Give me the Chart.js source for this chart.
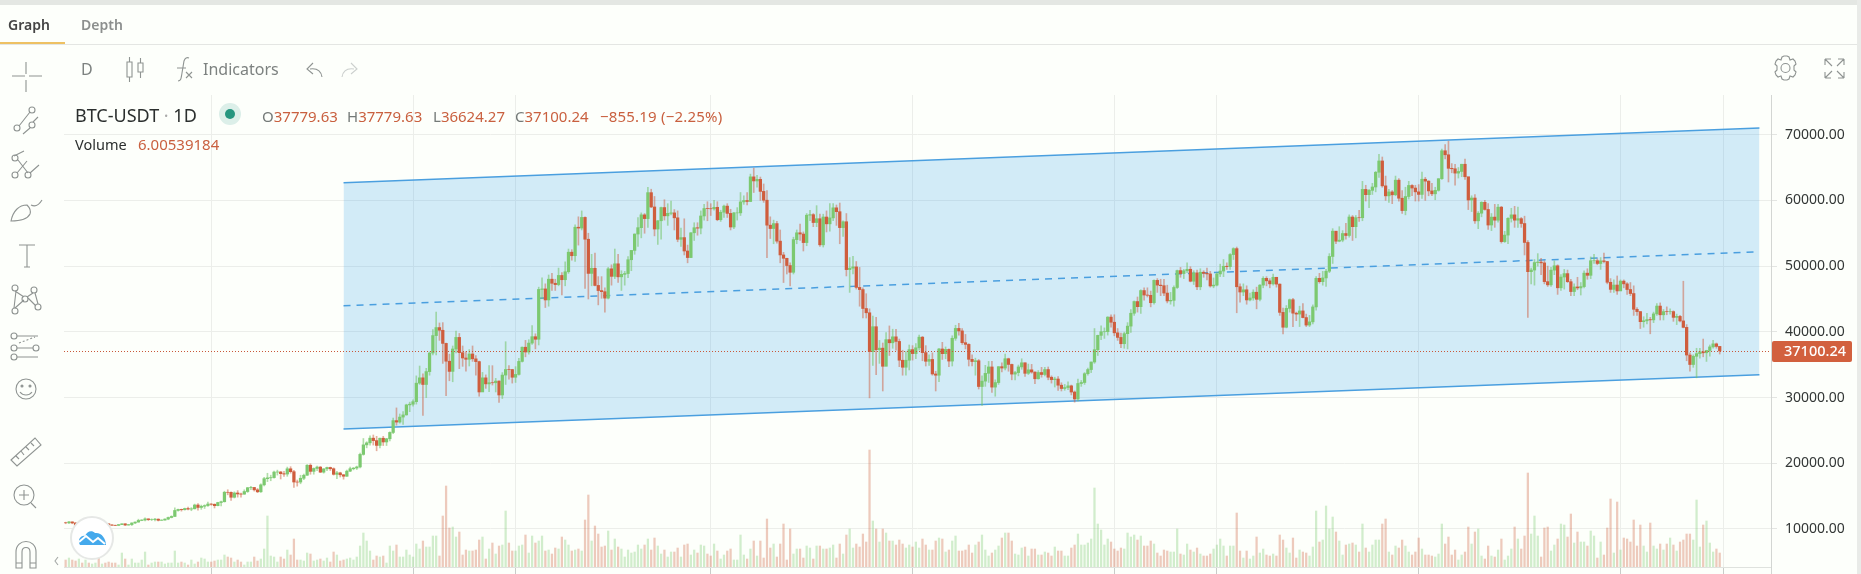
<!DOCTYPE html>
<html>
<head>
<meta charset="utf-8">
<title>BTC-USDT 1D</title>
<script src="https://cdn.jsdelivr.net/npm/chart.js@4"></script>
<style>
  html, body { margin: 0; padding: 0; background: #fdfffb; overflow: hidden; }
  #page { position: relative; width: 1861px; height: 574px; font-family: "Noto Sans", sans-serif; overflow: hidden; }
  #chart { position: absolute; left: 0; top: 0; }
  #icons { position: absolute; left: 0; top: 0; pointer-events: none; }
  .txt { position: absolute; white-space: nowrap; line-height: 20px; }
  .topstrip { position: absolute; left: 0; top: 0; width: 1861px; height: 5px; background: #e4e7e3; }
  .sidestrip { position: absolute; right: 0; top: 0; width: 4px; height: 574px; background: #e9ebe8; }
  .tabline { position: absolute; left: 0; top: 44px; width: 1857px; height: 1px; background: #e4e6e3; }
  .tabmark { position: absolute; left: 0; top: 42px; width: 65px; height: 2px; background: #eec163; }
  .grey { color: #7d8280; }
  .dark { color: #2b2f2e; }
  .red { color: #c9603f; }
  .leg { font-size: 15px; color: #747a78; }
  .leg b { font-weight: 400; color: #c9603f; }
</style>
</head>
<body>
<div id="page">
  <canvas id="chart" width="1861" height="574"></canvas>
  <div class="topstrip"></div>
  <div class="sidestrip"></div>
  <div class="tabline"></div>
  <div class="tabmark"></div>
  <div class="txt dark" style="left:8px;top:15px;font-size:14px;font-weight:600;color:#444">Graph</div>
  <div class="txt" style="left:81px;top:15px;font-size:14px;font-weight:600;color:#8c8f8e">Depth</div>
  <div class="txt grey" style="left:81px;top:59px;font-size:16px">D</div>
  <div class="txt grey" style="left:203px;top:59px;font-size:16px">Indicators</div>
  <div class="txt dark" style="left:75px;top:105px;font-size:18px">BTC-USDT <span style="color:#aaa">·</span> 1D</div>
  <div class="txt leg" style="left:262px;top:106px">O<b>37779.63</b></div>
  <div class="txt leg" style="left:347px;top:106px">H<b>37779.63</b></div>
  <div class="txt leg" style="left:433px;top:106px">L<b>36624.27</b></div>
  <div class="txt leg" style="left:515px;top:106px">C<b>37100.24</b></div>
  <div class="txt leg" style="left:600px;top:106px;letter-spacing:.2px"><b>−855.19 (−2.25%)</b></div>
  <div class="txt dark" style="left:75px;top:134px;font-size:14.500px">Volume</div>
  <div class="txt red" style="left:138px;top:134px;font-size:15px">6.00539184</div>

  <svg id="icons" width="1861" height="574" fill="none" stroke="#8f9492" stroke-width="1.1">
    <!-- status dot -->
    <circle cx="230" cy="114" r="11" fill="#dcefe9" stroke="none"/>
    <circle cx="230" cy="114" r="5" fill="#26967f" stroke="none"/>
    <!-- toolbar: candles, fx, undo, redo -->
    <path d="M127 62h5v15h-5zM129.500 57v5M129.500 77v5M138 63h5v9h-5zM140.500 58v5M140.500 72v6"/>
    <path d="M178 81c3 0 3-2 4-8l2-12c1-3 3-4 5-3M177 68h9M186 72l6 6M192 72l-6 6"/>
    <path d="M322 77c-1-6-5-9-12-8M313 63l-6 6 6 5"/>
    <path d="M342 77c1-6 5-9 12-8M351 63l6 6-6 5" stroke="#ccd0ce"/>
    <!-- top right: settings, fullscreen -->
    <circle cx="1785.500" cy="68" r="4.500"/>
    <path d="M1782 57l2-1h3l2 1 1 3 3-1 2 2 1 3-2 2v4l2 2-1 3-2 2-3-1-1 3-2 1h-3l-2-1-1-3-3 1-2-2-1-3 2-2v-4l-2-2 1-3 2-2 3 1z"/>
    <path d="M1825 59l7 7M1825 59h6M1825 59v6M1844 59l-7 7M1844 59h-6M1844 59v6M1825 78l7-7M1825 78h6M1825 78v-6M1844 78l-7-7M1844 78h-6M1844 78v-6"/>
    <!-- left tool column -->
    <path d="M26 62v12M26 80v12M12 76h13M29 76h13"/>
    <circle cx="32" cy="110" r="3"/><circle cx="17" cy="128" r="3"/><circle cx="32" cy="125" r="3"/>
    <path d="M30 112l-11 14M38 117l-5 5M30 128l-7 6"/>
    <circle cx="15" cy="158" r="3"/><circle cx="15" cy="175" r="3"/><circle cx="28" cy="175" r="3"/>
    <path d="M14 156l10-5M18 160l10 13M17 173l10-12M30 173l9-8"/>
    <path d="M11 221c2-10 8-16 16-16 3 3 4 6 3 9-2 4-8 7-19 7zM31 205c4 2 8 0 11-5"/>
    <path d="M19 245h16M27 245v22M24 267h6"/>
    <circle cx="15" cy="288" r="3"/><circle cx="34" cy="290" r="3"/><circle cx="25" cy="299" r="3"/><circle cx="15" cy="311" r="3"/><circle cx="38" cy="307" r="3"/>
    <path d="M15 291l9 6M28 298l8 8M15 308l9-8M33 293l-6 4M16 291l-2 17M35 293l3 11"/>
    <circle cx="14" cy="336" r="3"/><circle cx="14" cy="348" r="3"/><circle cx="14" cy="357" r="3"/><circle cx="36" cy="348" r="3"/>
    <path d="M17 336h21M17 348h16M17 357h21"/>
    <path d="M19 343l16-6" stroke-dasharray="2 2"/>
    <circle cx="26" cy="389" r="10"/>
    <circle cx="22" cy="386" r="1" fill="#8f9492"/><circle cx="30" cy="386" r="1" fill="#8f9492"/>
    <path d="M20 392c3 4 9 4 12 0"/>
    <path d="M11 460l24-22 6 7-24 21zM16 456l3 3M21 451l3 4M26 447l3 3M31 443l3 3"/>
    <circle cx="24" cy="495" r="10"/>
    <path d="M24 490v10M19 495h10M31 503l5 5"/>
    <path d="M16 568v-16c0-14 20-14 20 0v16h-6v-16c0-6-8-6-8 0v16zM16 563h6M30 563h6"/>
    <path d="M58 557l-3 4 3 4" stroke="#a5a9a7"/>
    <!-- logo -->
    <circle cx="92" cy="538" r="21" fill="#ffffff" stroke="#e6e8e6" stroke-width="2"/>
    <path d="M80 545c-3-5 1-10 5-9 2-5 7-6 10-3 6-1 11 5 11 12z" fill="#45a9ec" stroke="none"/>
    <path d="M79 542l7-6 7 6 5-4 7 6" stroke="#ffffff" stroke-width="2"/>
  </svg>
</div>

<script>
// daily candles, 18 Sep 2020 - 31 Jan 2022
const opens = [
  10950,10940,11080,10920,10420,10530,10240,10740,10690,10730,10770,10690,10840,
  10780,10620,10570,10550,10670,10790,10600,10670,10920,11050,11300,11370,11540,11430,11430,11500,11320,11360,11510,11750,11910,12820,12980,12930,13120,13030,13070,13650,13280,13460,13560,
  13800,13760,13550,14030,14150,15590,15580,14830,15480,15330,15300,15700,16280,16320,15960,15660,16720,17660,17780,17820,18660,18680,18420,18360,19160,18720,17150,17140,17720,18180,
  19700,18770,19210,19420,18650,19150,19360,19170,18320,18540,18250,18030,18800,19170,19270,19440,21350,22800,23110,23820,23450,22720,23810,23240,23730,24690,26490,26270,27030,27360,28880,
  28990,29370,32190,33000,31990,33950,36770,39430,40650,40240,38240,35530,33980,37390,39150,36830,36020,35820,36630,35890,35470,30850,33000,32080,32260,32250,32510,30390,33420,34270,34260,
  33090,33520,35500,37660,36930,38290,39260,38870,46450,46530,44850,48010,47390,47190,48580,47930,49140,52120,51580,55920,55790,57410,54090,48890,49670,47060,46280,46110,
  45130,49590,48440,50350,48370,48750,48870,50970,52390,54880,55850,57800,57230,61180,59000,55640,56900,58910,57650,58030,58100,57350,54080,54340,52300,51300,55070,55840,55780,57630,58760,
  58740,58720,58950,57060,58200,59130,58020,55950,58100,58100,59770,59980,59830,63580,62960,63200,61370,60030,56230,55720,56470,53800,51700,51190,50090,49060,54030,55070,54880,53580,
  57750,57830,56630,57210,53240,57470,56430,57340,58870,58280,55860,56750,49470,49690,49880,46760,46430,43550,42900,37000,40780,37280,37520,34760,38810,38330,39240,38540,35680,34610,35680,
  37290,36690,37570,39190,36840,35520,35800,33590,33400,37390,36680,37330,35550,39020,40520,40140,38350,38090,35820,35480,35600,31680,32500,33690,34660,31590,32280,34700,34490,35910,
  35040,33570,33800,34660,35290,33690,34220,33880,32860,33810,33510,34260,33090,32730,32820,31880,31380,31520,31780,30840,29790,32140,32290,33630,34260,35410,37280,39460,40010,40020,42240,
  41460,39850,39150,38190,39720,40870,42830,44610,43830,46280,45600,45560,44430,47830,47110,47020,45900,44700,44790,46750,49320,48870,49290,49520,47700,48970,46850,49070,48900,48810,46980,
  47110,48810,49250,49980,49920,51760,52660,46860,46060,46400,44850,45150,46030,44950,47110,48140,47760,47300,48300,47260,42960,40700,43570,44890,42840,42700,43180,42170,41030,41520,
  43790,48140,47630,48200,49220,51470,55320,53790,53950,54960,54660,57470,56000,57370,57360,61670,60870,61530,62040,64280,66000,62210,60690,61290,60850,63080,60330,58450,60590,62270,61880,
  61300,60910,63220,62930,61440,61000,61530,63300,67550,66940,64880,64810,64150,64400,65500,63600,60060,60360,56890,58050,59710,58620,56250,57460,56990,58970,53730,54720,57270,57800,
  56990,57220,56480,53600,49150,49400,50540,50620,50490,47640,47150,49390,50050,46700,48340,48860,47630,46130,46830,46680,46880,48930,48600,50820,50820,50400,50800,50700,47540,46460,47120,
  46220,47720,47300,46440,45830,43430,43080,41550,41680,41860,41820,42730,43920,42590,43080,43070,43080,42200,42350,41660,40680,36470,35030,36280,36680,36960,36810,37160,37710,38170,37779.63
];
const highs = [
  11040,11180,11090,10990,10570,10560,10790,10760,10780,10800,10950,10880,10850,
  10850,10670,10590,10690,10800,10800,10690,10930,11100,11490,11400,11700,11550,11550,11630,11540,11400,11530,11820,12010,13220,13030,13030,13180,13350,13250,13790,13850,13640,13680,14100,
  13860,13830,14070,14250,15750,15970,15650,15650,15840,15460,15960,16330,16480,16320,16170,16880,17860,18480,18190,18810,18960,18750,18770,19420,19480,18920,17450,18180,18340,19800,
  19920,19300,19560,19520,19180,19420,19420,19300,18790,18640,18300,18950,19410,19350,19570,21560,23770,23280,24170,24300,24100,23840,24100,23800,24790,26870,28420,27500,27850,28990,29300,
  29650,33300,34800,33600,34450,36950,40350,43000,41350,41400,38300,36600,37850,40100,39750,37850,37000,37300,37850,36400,35550,33830,33450,34880,34850,32920,32550,33800,38500,34850,34300,
  34700,35980,37700,38700,38800,40950,39700,46800,48200,47300,48650,48900,48000,49700,49000,50650,52600,52500,56300,57500,58400,57500,55000,51800,52000,48400,48400,46700,
  49800,50200,52600,51800,49300,49200,51450,52400,54900,57400,58100,58000,62000,61700,60600,56950,58980,60100,59500,59900,58600,58400,55800,57200,53200,55100,56600,56600,58400,59400,59800,
  59500,60000,59800,58500,59300,59500,58650,58200,58900,61200,60700,61200,64000,64900,63800,63550,62500,61500,57500,57000,56800,55500,52100,51200,50500,54400,55500,56400,55200,58000,
  58500,58000,59200,57900,57900,58400,59500,59500,59300,59600,56900,58000,51300,51500,50700,49800,46700,45800,43500,42400,42200,38700,38300,39900,40900,40400,40400,38900,37200,37000,38000,
  37900,38200,39500,39300,37900,36500,36800,34000,37500,38400,37700,37400,39400,41000,41300,40500,39600,38200,36500,36000,35800,33300,34900,35500,35500,32700,34700,35300,36600,36000,
  35100,34000,34950,35900,35300,35100,35050,33900,34100,34600,34600,34650,33300,33100,33200,32250,32000,32400,31900,31000,32800,32600,33800,34500,35400,40500,39500,40900,40600,42300,42600,
  42600,40500,39800,39950,41400,43400,44700,45300,46400,46700,46700,46200,47900,48100,48000,48000,47100,46000,47000,49400,49800,49500,50500,49900,49300,49400,49600,49300,49700,49200,48200,
  49000,50300,51000,50500,51900,52800,52900,47300,47300,47000,45900,46400,46800,47200,48400,48400,48100,48800,48300,47300,43600,44000,45000,45100,43000,43900,44300,42700,42500,44100,
  48400,48900,49200,49500,51900,55700,55300,56000,55400,56500,57800,57700,57700,58500,62900,62300,61700,62600,64400,67000,66600,63700,61700,61500,63700,63300,61500,62000,62900,62400,62300,
  62400,64300,63500,63000,62600,62000,63300,67800,68500,69000,65600,65500,65000,65500,66300,63500,60700,60900,58300,59800,60000,59500,58000,59400,59400,59100,55300,57400,58800,59100,
  59000,57400,57600,53900,49700,51000,51900,51200,50800,50000,49800,50800,50200,48700,49500,49400,48000,47300,48300,47500,49300,49600,51400,51800,51100,51300,52000,50700,48100,47900,48500,
  47900,47900,47500,47500,47000,43700,43100,42300,42800,42200,43000,44300,44400,43400,43800,43500,43200,42700,42500,47700,41100,36800,36500,37500,37500,38900,37200,38000,38700,38300,37779.63
];
const lows = [
  10800,10820,10800,10290,10360,10150,10200,10530,10650,10660,10640,10650,10670,
  10450,10540,10510,10530,10650,10530,10590,10530,10820,11040,11260,11220,11280,11280,11240,11220,11300,11340,11410,11690,11890,12700,12720,12880,12900,12780,13050,12880,12990,13120,13430,
  13620,13200,13520,13530,14100,15200,14350,14720,14850,14840,15280,15560,15970,15770,15530,15550,16570,17210,17340,17750,18200,17610,18000,18020,18500,16330,16520,16880,17520,18170,
  18330,18340,18880,18580,18500,18870,18900,18200,17650,17910,17580,18000,18710,19000,19050,19280,21230,22350,22750,22770,21900,22350,22700,22700,23420,24500,25800,26100,25900,27320,27850,
  28700,29000,32000,27300,30000,33400,36500,36500,38700,35200,30300,32550,32400,36800,34400,34750,34000,34800,35500,33400,30200,31000,31400,30900,31900,30850,29250,29850,31990,32800,32200,
  32300,33420,35400,36200,36600,38100,37400,38000,45000,43700,43900,46300,46300,47000,45600,47000,48900,50900,50700,53200,55500,46600,45000,47000,47000,44100,45100,43000,
  45000,47100,48100,47500,46300,47100,48250,49300,51800,53000,54300,55000,55900,58900,54600,53300,54100,57000,56200,57800,55500,53700,53000,51700,50500,51300,53900,54700,54900,57000,56900,
  57700,58500,56900,56800,57400,57400,55500,55700,57000,57700,59400,59300,59800,61200,62000,60000,59700,51300,54200,53400,53500,50500,47500,48800,47000,48800,53400,53900,52300,53100,
  56900,56000,56000,53000,52900,55200,55300,56900,56200,53400,54500,48500,46000,48800,46500,43900,42100,42100,29950,34900,33500,35200,31000,34800,36400,37500,37200,34700,33400,33400,34200,
  35700,35900,37200,35600,34800,34900,33400,31000,32400,35800,35900,34700,34800,38700,39500,38100,37400,34800,34800,33400,31300,28800,31700,32300,30800,30200,32000,33900,34200,34000,
  32700,32700,33300,34300,33200,33500,33700,32100,32800,33100,33300,32700,32200,31600,31100,31000,31100,31200,30400,29300,29500,31700,32000,33400,33800,35200,36400,38800,39000,39500,40700,
  39400,38700,37600,37500,37400,39900,42500,43000,42800,44800,45300,43800,44200,46000,45500,45500,44400,44200,43900,46600,48300,48100,49000,47600,47200,46400,46400,48300,47900,46800,46700,
  47000,48400,48400,49500,49500,51000,42900,44500,45500,44200,44700,44800,43500,44700,46700,47000,46700,47100,46800,42500,39700,40600,43000,40800,41700,40800,42100,40800,40800,41200,
  43300,47400,47100,46900,49000,50400,53400,53700,53700,54100,54400,53900,54300,56800,56900,59900,58900,60900,61300,63500,62000,60000,59700,59500,60700,59900,58000,57800,60200,60700,59900,
  59900,60300,60000,60700,60700,60100,61400,63200,66300,62800,64200,62300,63400,63600,63200,58600,58300,56500,55700,57500,58500,55600,55400,55900,56700,53500,53600,53400,56700,55900,
  55900,55900,51700,42200,47300,47100,50000,48700,47300,46900,46900,48700,45700,46300,46500,47500,45500,45500,46400,45600,46700,48000,48100,50400,50200,49500,50500,47300,46000,46000,45700,
  46700,46700,45700,45500,42500,42500,40500,40700,41200,39700,41400,42500,41800,41800,42600,42700,41600,41100,41500,40600,35600,34000,34600,33000,36000,36200,35500,36300,37500,37500,36624.27
];
const closes = [
  10940,11080,10920,10420,10530,10240,10740,10690,10730,10770,10690,10840,10780,
  10620,10570,10550,10670,10790,10600,10670,10920,11050,11300,11370,11540,11430,11430,11500,11320,11360,11510,11750,11910,12820,12980,12930,13120,13030,13070,13650,13280,13460,13560,13800,
  13760,13550,14030,14150,15590,15580,14830,15480,15330,15300,15700,16280,16320,15960,15660,16720,17660,17780,17820,18660,18680,18420,18360,19160,18720,17150,17140,17720,18180,19700,
  18770,19210,19420,18650,19150,19360,19170,18320,18540,18250,18030,18800,19170,19270,19440,21350,22800,23110,23820,23450,22720,23810,23240,23730,24690,26490,26270,27030,27360,28880,28990,
  29370,32190,33000,31990,33950,36770,39430,40650,40240,38240,35530,33980,37390,39150,36830,36020,35820,36630,35890,35470,30850,33000,32080,32260,32250,32510,30390,33420,34270,34260,33090,
  33520,35500,37660,36930,38290,39260,38870,46450,46530,44850,48010,47390,47190,48580,47930,49140,52120,51580,55920,55790,57410,54090,48890,49670,47060,46280,46110,45130,
  49590,48440,50350,48370,48750,48870,50970,52390,54880,55850,57800,57230,61180,59000,55640,56900,58910,57650,58030,58100,57350,54080,54340,52300,51300,55070,55840,55780,57630,58760,58740,
  58720,58950,57060,58200,59130,58020,55950,58100,58100,59770,59980,59830,63580,62960,63200,61370,60030,56230,55720,56470,53800,51700,51190,50090,49060,54030,55070,54880,53580,57750,
  57830,56630,57210,53240,57470,56430,57340,58870,58280,55860,56750,49470,49690,49880,46760,46430,43550,42900,37000,40780,37280,37520,34760,38810,38330,39240,38540,35680,34610,35680,37290,
  36690,37570,39190,36840,35520,35800,33590,33400,37390,36680,37330,35550,39020,40520,40140,38350,38090,35820,35480,35600,31680,32500,33690,34660,31590,32280,34700,34490,35910,35040,
  33570,33800,34660,35290,33690,34220,33880,32860,33810,33510,34260,33090,32730,32820,31880,31380,31520,31780,30840,29790,32140,32290,33630,34260,35410,37280,39460,40010,40020,42240,41460,
  39850,39150,38190,39720,40870,42830,44610,43830,46280,45600,45560,44430,47830,47110,47020,45900,44700,44790,46750,49320,48870,49290,49520,47700,48970,46850,49070,48900,48810,46980,47110,
  48810,49250,49980,49920,51760,52660,46860,46060,46400,44850,45150,46030,44950,47110,48140,47760,47300,48300,47260,42960,40700,43570,44890,42840,42700,43180,42170,41030,41520,43790,
  48140,47630,48200,49220,51470,55320,53790,53950,54960,54660,57470,56000,57370,57360,61670,60870,61530,62040,64280,66000,62210,60690,61290,60850,63080,60330,58450,60590,62270,61880,61300,
  60910,63220,62930,61440,61000,61530,63300,67550,66940,64880,64810,64150,64400,65500,63600,60060,60360,56890,58050,59710,58620,56250,57460,56990,58970,53730,54720,57270,57800,56990,
  57220,56480,53600,49150,49400,50540,50620,50490,47640,47150,49390,50050,46700,48340,48860,47630,46130,46830,46680,46880,48930,48600,50820,50820,50400,50800,50700,47540,46460,47120,46220,
  47720,47300,46440,45830,43430,43080,41550,41680,41860,41820,42730,43920,42590,43080,43070,43080,42200,42350,41660,40680,36470,35030,36280,36680,36960,36810,37160,37710,38170,37779.63,37100.24
];
// volume has no readable scale in the picture, so it is in arbitrary units
const volumes = [
  7,9,7,6,8,4,7,4,3,4,9,3,4,5,4,4,2,14,8,2,8,4,4,7,15,2,4,5,5,5,3,4,4,16,4,5,4,2,7,3,5,9,8,5,
  5,6,7,7,12,10,9,5,7,5,2,5,5,10,6,8,18,51,11,10,5,10,8,17,12,28,7,7,6,14,13,6,7,8,6,9,5,15,12,6,
  7,8,9,7,10,21,34,26,16,7,11,10,11,4,21,16,22,10,10,17,12,10,23,18,26,20,20,31,31,11,51,81,39,40,30,35,12,17,16,16,17,27,30,8,18,24,13,21,22,56,24,16,16,21,22,32,14,31,24,26,31,16,17,13,19,18,30,27,22,16,17,18,16,47,72,26,41,33,20,21,36,
  17,28,20,18,10,17,14,15,22,18,22,28,17,29,21,13,17,10,15,15,19,10,22,23,12,17,14,22,21,13,11,23,16,8,12,16,18,7,7,32,12,8,18,26,11,26,9,48,19,23,10,23,43,7,38,13,18,18,9,21,19,8,21,21,18,18,19,22,9,23,13,32,38,19,23,20,33,25,117,
  46,38,25,38,34,26,26,22,27,23,19,22,20,25,19,28,22,17,17,26,29,28,15,17,26,31,16,16,17,22,14,22,25,32,17,11,14,17,21,29,34,34,26,13,12,19,20,11,18,18,12,12,15,14,11,20,16,16,11,11,19,22,33,22,22,24,28,79,43,37,22,28,25,18,16,19,18,34,
  30,32,27,31,21,21,26,23,14,11,17,16,15,15,38,13,12,23,17,15,19,13,11,11,13,18,22,28,21,11,21,21,54,16,9,16,8,11,30,14,18,12,11,13,11,32,27,19,14,29,9,17,15,14,11,20,56,25,27,61,38,50,35,26,12,22,23,24,22,15,43,19,15,22,27,27,43,48,15,
  12,21,19,27,21,15,12,15,29,18,12,12,11,10,13,43,23,30,12,17,7,12,15,40,23,35,38,11,8,21,11,10,17,28,7,11,18,40,28,18,31,94,33,51,31,10,39,40,16,22,28,43,42,30,53,24,35,25,25,21,36,31,9,25,12,39,68,14,65,17,29,28,25,47,21,42,21,15,44,21,
  18,23,17,23,29,22,16,25,27,33,33,27,67,20,42,46,24,15,18,14
];
const priceTicks = [10000, 20000, 30000, 40000, 50000, 60000, 70000];
// month starts that get a vertical gridline (candle index), Nov 2020 ... Feb 2022
const monthTicks = [44, 105, 136, 195, 256, 317, 348, 409, 470, 501];
// drawn channel: value at the left anchor and at the right anchor
const channelTop = [62690, 71015];
const channelMid = [43975, 52190];
const channelBottom = [25220, 33478];
const channelFrom = 84;
const channelTo = 512;

const PRICE_MIN = 4218;
const PRICE_MAX = 76036;
const VOLUME_MAX = 472;
const SLOTS = 516;

const RED = "#cf5d3d";
const GREEN = "#7cc970";
const RED_WICK = "rgba(205, 95, 65, 0.5)";
const GREEN_WICK = "rgba(115, 195, 100, 0.55)";
const RED_VOL = "rgba(207, 93, 61, 0.33)";
const GREEN_VOL = "rgba(121, 199, 108, 0.33)";
const CHANNEL = "#4a9fdf";
const GRID = "#eceeea";

const dayLabels = [];
for (let i = 0; i < SLOTS; i++) {
  const d = new Date(Date.UTC(2020, 8, 18 + i));
  dayLabels.push(d.toISOString().slice(0, 10));
}

const isUp = (i) => closes[i] >= opens[i];
const channelPoints = (vals) => [
  { x: dayLabels[channelFrom], y: vals[0] },
  { x: dayLabels[channelTo], y: vals[1] },
];

// last price: dotted line across the plot plus the tag on the axis
const lastPricePlugin = {
  id: "lastPrice",
  afterDatasetsDraw(chart) {
    const { ctx, chartArea, scales } = chart;
    const last = closes[closes.length - 1];
    const y = Math.round(scales.y.getPixelForValue(last)) + 0.5;
    ctx.save();
    ctx.strokeStyle = "#c9583a";
    ctx.lineWidth = 1;
    ctx.setLineDash([1, 2]);
    ctx.beginPath();
    ctx.moveTo(chartArea.left, y);
    ctx.lineTo(chartArea.right, y);
    ctx.stroke();
    ctx.setLineDash([]);
    ctx.strokeStyle = "#d3d6d3";
    ctx.beginPath();
    ctx.moveTo(chartArea.right + 0.5, chartArea.top);
    ctx.lineTo(chartArea.right + 0.5, 574);
    ctx.stroke();
    ctx.fillStyle = "#d2603e";
    ctx.beginPath();
    ctx.roundRect(chartArea.right + 1, y - 10.5, 80, 21, 2);
    ctx.fill();
    ctx.fillStyle = "#ffffff";
    ctx.font = '500 14.5px "Noto Sans"';
    ctx.textBaseline = "middle";
    ctx.fillText(last.toFixed(2), 1784, y + 0.5);
    ctx.restore();
  },
};

new Chart(document.getElementById("chart"), {
  data: {
    labels: dayLabels,
    datasets: [
      {
        type: "line",
        data: channelPoints(channelTop),
        borderColor: CHANNEL,
        borderWidth: 1.5,
        pointRadius: 0,
        fill: { target: 2 },
        backgroundColor: "rgba(40, 155, 235, 0.2)",
        order: 9,
      },
      {
        type: "line",
        data: channelPoints(channelMid),
        borderColor: CHANNEL,
        borderWidth: 1.5,
        borderDash: [7, 6],
        pointRadius: 0,
        fill: false,
        order: 8,
      },
      {
        type: "line",
        data: channelPoints(channelBottom),
        borderColor: CHANNEL,
        borderWidth: 1.5,
        pointRadius: 0,
        fill: false,
        order: 8,
      },
      {
        type: "bar",
        yAxisID: "vol",
        data: volumes,
        backgroundColor: volumes.map((_, i) => (isUp(i) ? GREEN_VOL : RED_VOL)),
        barThickness: 1.6,
        order: 5,
      },
      {
        type: "bar",
        data: lows.map((l, i) => [l, highs[i]]),
        backgroundColor: closes.map((_, i) => (isUp(i) ? GREEN_WICK : RED_WICK)),
        barThickness: 1,
        order: 3,
      },
      {
        type: "bar",
        data: opens.map((o, i) => [o, closes[i]]),
        backgroundColor: closes.map((_, i) => (isUp(i) ? GREEN : RED)),
        barThickness: 2.6,
        order: 2,
      },
    ],
  },
  options: {
    responsive: false,
    animation: false,
    events: [],
    datasets: { bar: { grouped: false } },
    layout: { padding: { left: 64, top: 95, right: 0, bottom: 0 } },
    plugins: { legend: { display: false }, tooltip: { enabled: false } },
    scales: {
      x: {
        type: "category",
        offset: true,
        afterBuildTicks(scale) {
          scale.ticks = monthTicks.map((v) => ({ value: v }));
        },
        afterFit(scale) {
          scale.height = 7;
        },
        ticks: { display: false, autoSkip: false },
        grid: { offset: false, color: GRID, tickColor: "#c9ccc9", tickLength: 7 },
        border: { display: true, color: "#dfe2de" },
      },
      y: {
        position: "right",
        min: PRICE_MIN,
        max: PRICE_MAX,
        afterBuildTicks(scale) {
          scale.ticks = priceTicks.map((v) => ({ value: v }));
        },
        afterFit(scale) {
          scale.width = 90;
          scale.paddingTop = 0;
          scale.paddingBottom = 0;
        },
        ticks: {
          padding: 8,
          color: "#333736",
          font: { family: "Noto Sans", size: 14 },
          callback: (v) => v.toFixed(2),
        },
        grid: { color: GRID, tickColor: "#e3e5e2", tickLength: 6 },
        border: { display: false },
      },
      vol: {
        display: false,
        position: "left",
        min: 0,
        max: VOLUME_MAX,
      },
    },
  },
  plugins: [lastPricePlugin],
});
</script>
</body>
</html>
